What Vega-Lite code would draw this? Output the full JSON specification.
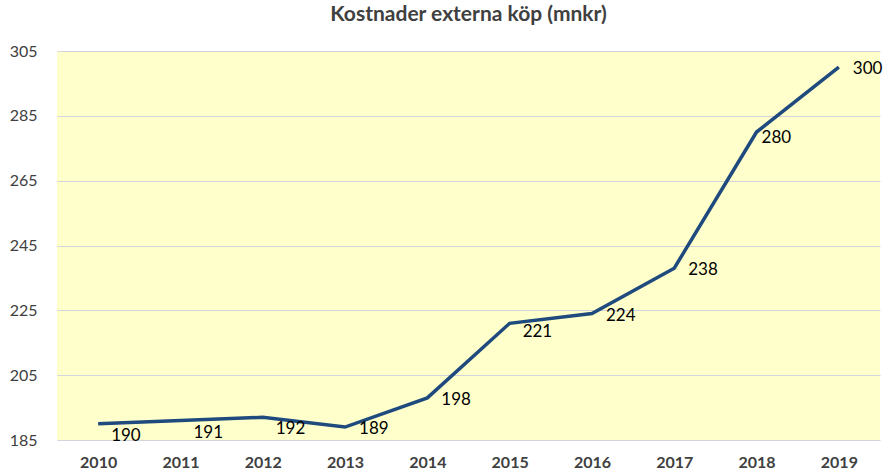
{
  "$schema": "https://vega.github.io/schema/vega-lite/v6.json",
  "width": 823,
  "height": 389,
  "autosize": {"type": "none"},
  "padding": {"left": 57, "top": 51, "right": 11, "bottom": 33},
  "background": "white",
  "title": {
    "text": "Kostnader externa köp (mnkr)",
    "font": "Lato",
    "fontSize": 21,
    "fontWeight": "bold",
    "color": "#404040",
    "offset": 18,
    "anchor": "middle"
  },
  "config": {
    "view": {"fill": "#FFFFCC", "stroke": null},
    "axis": {"labelFont": "Lato", "labelColor": "#404040", "labelFontSize": 16}
  },
  "data": {
    "values": [
      {"year": "2010", "value": 190},
      {"year": "2011", "value": 191},
      {"year": "2012", "value": 192},
      {"year": "2013", "value": 189},
      {"year": "2014", "value": 198},
      {"year": "2015", "value": 221},
      {"year": "2016", "value": 224},
      {"year": "2017", "value": 238},
      {"year": "2018", "value": 280},
      {"year": "2019", "value": 300}
    ]
  },
  "encoding": {
    "x": {
      "field": "year",
      "type": "ordinal",
      "scale": {"type": "point", "padding": 0.5},
      "axis": {
        "title": null,
        "labelAngle": 0,
        "labelFontWeight": "bold",
        "labelFontSize": 16,
        "ticks": false,
        "domain": false,
        "labelPadding": 14
      }
    },
    "y": {
      "field": "value",
      "type": "quantitative",
      "scale": {"domain": [185, 305], "nice": false, "zero": false},
      "axis": {
        "title": null,
        "values": [185, 205, 225, 245, 265, 285, 305],
        "ticks": false,
        "domain": false,
        "grid": true,
        "gridColor": "#D4D4DC",
        "gridWidth": 1.2,
        "labelPadding": 20
      }
    }
  },
  "layer": [
    {
      "mark": {"type": "line", "color": "#1F4A7E", "strokeWidth": 3.5}
    },
    {
      "transform": [{"filter": "indexof(['2010','2011','2012'], datum.year) >= 0"}],
      "mark": {"type": "text", "align": "left", "baseline": "middle", "dx": 13, "dy": 12, "font": "Lato", "fontSize": 17, "color": "#000000"},
      "encoding": {"text": {"field": "value", "type": "quantitative"}}
    },
    {
      "transform": [{"filter": "datum.year == '2015'"}],
      "mark": {"type": "text", "align": "left", "baseline": "middle", "dx": 13, "dy": 9, "font": "Lato", "fontSize": 17, "color": "#000000"},
      "encoding": {"text": {"field": "value", "type": "quantitative"}}
    },
    {
      "transform": [{"filter": "indexof(['2013','2014','2016','2017','2019'], datum.year) >= 0"}],
      "mark": {"type": "text", "align": "left", "baseline": "middle", "dx": 14, "dy": 2, "font": "Lato", "fontSize": 17, "color": "#000000"},
      "encoding": {"text": {"field": "value", "type": "quantitative"}}
    },
    {
      "transform": [{"filter": "datum.year == '2018'"}],
      "mark": {"type": "text", "align": "left", "baseline": "middle", "dx": 5, "dy": 6, "font": "Lato", "fontSize": 17, "color": "#000000"},
      "encoding": {"text": {"field": "value", "type": "quantitative"}}
    }
  ]
}
